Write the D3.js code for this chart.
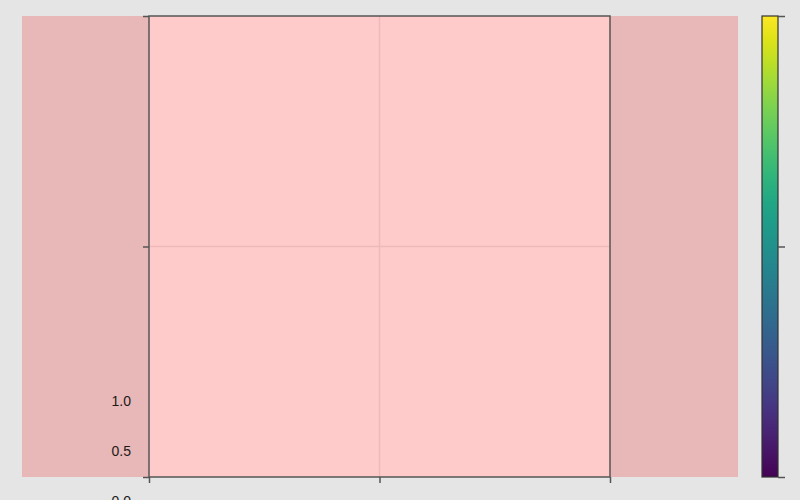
<!DOCTYPE html>
<html><head><meta charset="utf-8">
<script src="https://cdn.jsdelivr.net/npm/d3@7"></script>
<style>html,body{margin:0;padding:0;background:#e5e5e5;overflow:hidden}svg{display:block}</style>
</head><body>
<svg id="c" width="800" height="500"></svg>
<script>
const xTicks = [0, 0.5, 1];
const yTicks = [0, 0.5, 1];
const colorTicks = [0, 0.5, 1];
const strayTicks = [0, 0.5, 1];

const svg = d3.select("#c");
svg.append("rect").attr("width",800).attr("height",500).attr("fill","#e5e5e5");

const x = d3.scaleLinear().domain([0,1]).range([149,610]);
const y = d3.scaleLinear().domain([0,1]).range([477,16]);
const cy = d3.scaleLinear().domain([0,1]).range([477,16]);
const sy = d3.scaleLinear().domain([0,1]).range([501.5,401.5]);

// outer panel
svg.append("rect").attr("x",22).attr("y",16).attr("width",716).attr("height",461).attr("fill","#e8b7b7");
// plot area
svg.append("rect").attr("x",x(0)).attr("y",y(1)).attr("width",x(1)-x(0)).attr("height",y(0)-y(1)).attr("fill","#ffcaca");

// grid
svg.append("g").selectAll("line").data(xTicks.filter(d=>d>0&&d<1)).join("line")
  .attr("x1",d=>x(d)).attr("x2",d=>x(d)).attr("y1",y(0)).attr("y2",y(1))
  .attr("stroke","#ecbaba").attr("stroke-width",1.5);
svg.append("g").selectAll("line").data(yTicks.filter(d=>d>0&&d<1)).join("line")
  .attr("y1",d=>y(d)).attr("y2",d=>y(d)).attr("x1",x(0)).attr("x2",x(1))
  .attr("stroke","#ecbaba").attr("stroke-width",1.5);

// frame
svg.append("rect").attr("x",x(0)).attr("y",y(1)).attr("width",x(1)-x(0)).attr("height",y(0)-y(1))
  .attr("fill","none").attr("stroke","#555").attr("stroke-width",1.5);

// axes
const ax = svg.append("g").attr("transform",`translate(0,${y(0)})`)
  .call(d3.axisBottom(x).tickValues(xTicks).tickSize(6).tickFormat(""));
ax.select(".domain").remove();
ax.selectAll("line").attr("stroke","#555").attr("stroke-width",1.5);
const ay = svg.append("g").attr("transform",`translate(${x(0)},0)`)
  .call(d3.axisLeft(y).tickValues(yTicks).tickSize(6).tickFormat(""));
ay.select(".domain").remove();
ay.selectAll("line").attr("stroke","#555").attr("stroke-width",1.5);

// stray labels
const as = svg.append("g").attr("transform","translate(140,0)")
  .call(d3.axisLeft(sy).tickValues(strayTicks).tickSize(6).tickPadding(3).tickFormat(d3.format(".1f")));
as.select(".domain").remove();
as.selectAll("line").remove();
as.selectAll("text").attr("fill","#1a1a1a").style("font-family","'Liberation Sans', Arial, sans-serif").style("font-size","14px");

// colorbar
const defs = svg.append("defs");
const grad = defs.append("linearGradient").attr("id","vir").attr("x1",0).attr("x2",0).attr("y1",1).attr("y2",0);
d3.range(0,1.0001,0.05).forEach(t=>grad.append("stop").attr("offset",t).attr("stop-color",d3.interpolateViridis(t)));
svg.append("rect").attr("x",762).attr("y",cy(1)).attr("width",16).attr("height",cy(0)-cy(1))
  .attr("fill","url(#vir)").attr("stroke","#333").attr("stroke-width",1.2);
const ac = svg.append("g").attr("transform","translate(778,0)")
  .call(d3.axisRight(cy).tickValues(colorTicks).tickSize(7).tickFormat(""));
ac.select(".domain").remove();
ac.selectAll("line").attr("stroke","#555").attr("stroke-width",1.5);
</script>
</body></html>
